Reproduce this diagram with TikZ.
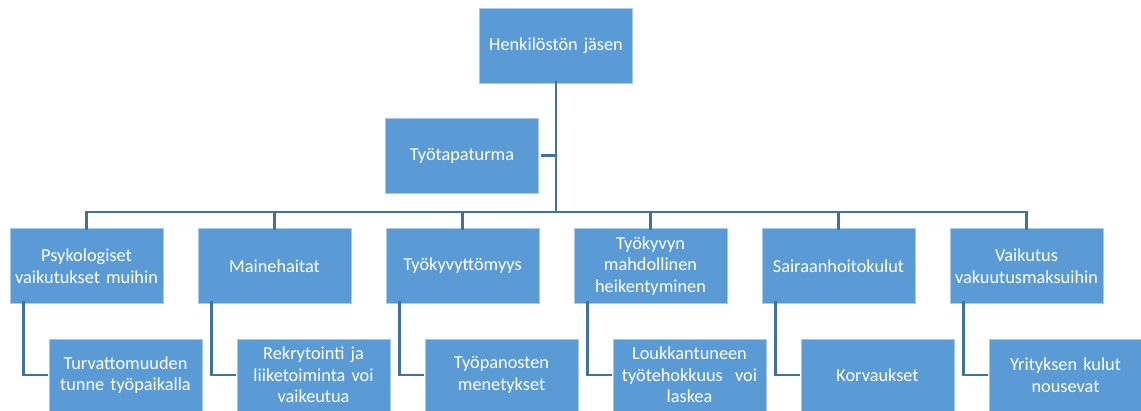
\documentclass[tikz,border=0pt]{standalone}
\usepackage{fontspec}
\setmainfont{Carlito}
\definecolor{boxfill}{HTML}{5B9BD5}
\definecolor{boxline}{HTML}{A9C8E8}
\definecolor{conncol}{HTML}{41719C}
\begin{document}
\begin{tikzpicture}[x=1pt,y=-1pt,
  box/.style={draw=boxline,line width=0.8pt,fill=boxfill,text=white,
    minimum width=153pt,minimum height=75pt,inner sep=1pt,
    align=center,text width=150pt,font=\fontsize{18.3}{21.5}\selectfont},
  cbox/.style={box,minimum height=72pt},
  conn/.style={draw=conncol,line width=2.8pt}]
\useasboundingbox (0,0) rectangle (1141,411);
\node[box] (top) at (556,45.5) {Henkilöstön jäsen};
\node[box] (tt) at (462,155.5) {Työtapaturma};
\coordinate (bar) at (0,212);
\foreach \i/\t in {1/{Psykologiset\\vaikutukset muihin},2/{Mainehaitat},3/{Työkyvyttömyys},4/{Työkyvyn\\mahdollinen\\heikentyminen},5/{Sairaanhoitokulut},6/{Vaikutus\\vakuutusmaksuihin}}{
  \node[box] (c\i) at ({86.5+188*(\i-1)},266) {\t};
}
\foreach \i/\t in {1/{Turvattomuuden\\tunne työpaikalla},2/{Rekrytointi ja\\liiketoiminta voi\\vaikeutua},3/{Työpanosten\\menetykset},4/{Loukkantuneen\\työtehokkuus\ \ voi\\laskea},5/{Korvaukset},6/{Yrityksen kulut\\nousevat}}{
  \node[cbox] (d\i) at ({125.5+188*(\i-1)},375) {\t};
}
\draw[conn] ([yshift=2pt]top.south) -- (top.south |- bar);
\draw[conn] ([xshift=2pt]tt.east) -- (tt.east -| top.south);
\foreach \i in {1,...,6}{
  \draw[conn] (top.south |- bar) -| ([yshift=-2pt]c\i.north);
  \draw[conn] ([xshift=14pt,yshift=3pt]c\i.south west) |- ([xshift=-1pt]d\i.west);
}
\end{tikzpicture}
\end{document}
